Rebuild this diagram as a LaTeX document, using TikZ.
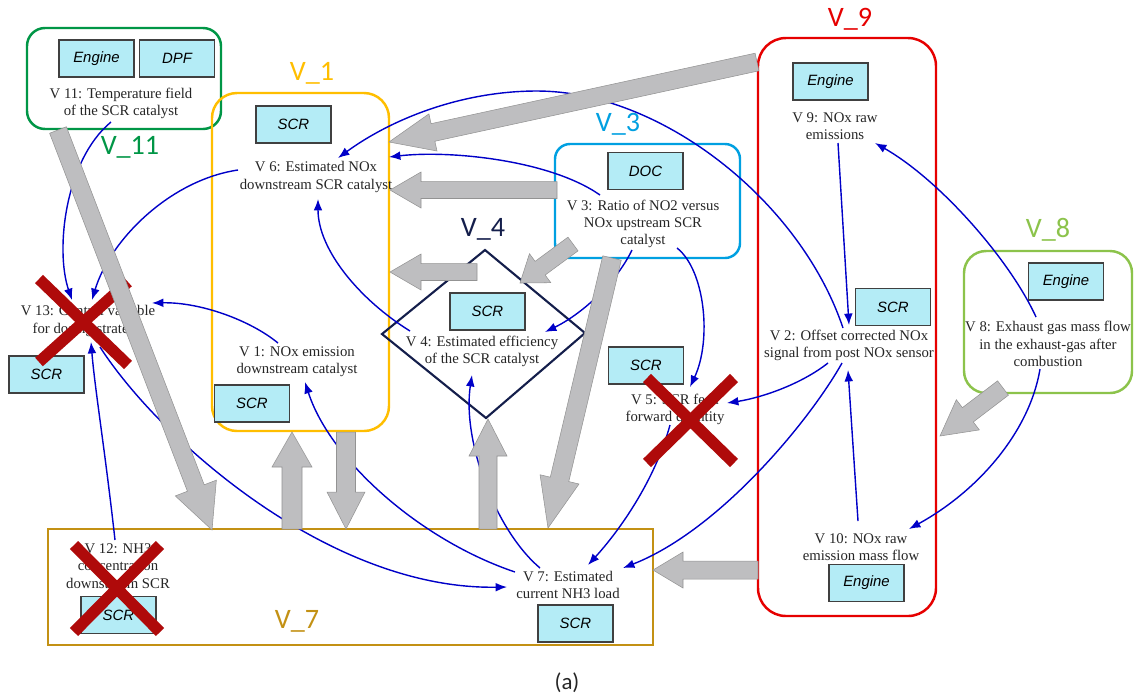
\documentclass[tikz,border=0pt]{standalone}
\usepackage{fontspec}
\setmainfont{Liberation Serif}
\newfontfamily\labfont{Carlito}
\newfontfamily\boxfont{Liberation Sans}
\usetikzlibrary{arrows.meta,calc}

\definecolor{cgreen}{RGB}{0,150,70}
\definecolor{corange}{RGB}{255,190,0}
\definecolor{ccyan}{RGB}{0,160,225}
\definecolor{cnavy}{RGB}{20,30,75}
\definecolor{cred}{RGB}{230,0,0}
\definecolor{clime}{RGB}{140,195,75}
\definecolor{cgold}{RGB}{195,145,20}
\definecolor{cblue}{RGB}{0,0,200}
\definecolor{cboxfill}{RGB}{180,236,246}
\definecolor{cxred}{RGB}{175,10,10}
\definecolor{cgrey}{RGB}{190,190,192}

\tikzset{
 txt/.style={font=\fontsize{8.4}{9.8}\selectfont, align=center, inner sep=1pt, text=black!85},
 comp/.style={draw=black!75, fill=cboxfill, line width=0.8pt, minimum width=1.5cm, minimum height=0.74cm, inner sep=0pt, font=\boxfont\itshape\fontsize{8.5}{10}\selectfont},
 grp/.style={line width=1.4pt},
 lab/.style={font=\labfont\fontsize{16}{18}\selectfont, inner sep=0pt},
 conn/.style={cblue, line width=0.8pt, -{Latex[length=6.5pt,width=5pt]}},
 plain/.style={cblue, line width=0.8pt},
 xmark/.style={cxred, line width=6.5pt},
 garr/.style={fill=cgrey, draw=gray!85, line width=0.3pt},
}

\newcommand{\grarrow}[5]{%
 \coordinate (gah) at ($(#2)!#5!(#1)$);
 \filldraw[garr] ($(#1)!#3!90:(#2)$) -- ($(gah)!#3!90:(#2)$) -- ($(gah)!#4!90:(#2)$) -- (#2) -- ($(gah)!#4!-90:(#2)$) -- ($(gah)!#3!-90:(#2)$) -- ($(#1)!#3!-90:(#2)$) -- cycle;}

\begin{document}
\begin{tikzpicture}[x=0.02cm,y=-0.02cm]
\useasboundingbox (0,0) rectangle (1135,698);
\fill[white] (0,0) rectangle (1135,698);

% group boxes
\draw[grp, cgreen, rounded corners=0.36cm] (27,28) rectangle (221,129);
\draw[grp, corange, rounded corners=0.5cm] (212,93) rectangle (389,431);
\draw[grp, ccyan, rounded corners=0.3cm] (555,144) rectangle (740,258);
\draw[grp, cred, rounded corners=0.56cm] (758,38) rectangle (936,616);
\draw[grp, clime, rounded corners=0.44cm] (964,251) rectangle (1132,393);
\draw[grp, cgold] (48,529) rectangle (653,645);
\coordinate (dT) at (485,250);
\coordinate (dR) at (585,333);
\coordinate (dB) at (486,418);
\coordinate (dL) at (382,334);
\draw[cnavy, line width=1.2pt] (dT) -- (dR) -- (dB) -- (dL) -- cycle;

% group labels
\node[lab, text=cgreen] (l11) at (130,147) {V\_11};
\node[lab, text=corange] (l1) at (312,73) {V\_1};
\node[lab, text=ccyan] (l3) at (618,124) {V\_3};
\node[lab, text=cnavy] (l4) at (483,229) {V\_4};
\node[lab, text=cred] (l9) at (850,19) {V\_9};
\node[lab, text=clime] (l8) at (1048,230) {V\_8};
\node[lab, text=cgold] (l7) at (297,621) {V\_7};
\node[font=\labfont\fontsize{13}{15}\selectfont, text=black!85] (cap) at (567,683) {(a)};

% component boxes
\node[comp] (b11a) at (96.5,58.5) {Engine};
\node[comp] (b11b) at (177,58.5) {DPF};
\node[comp] (b6) at (293.5,124.5) {SCR};
\node[comp] (b1) at (252,403.5) {SCR};
\node[comp] (b4) at (487.5,311.5) {SCR};
\node[comp] (b3) at (645.5,171) {DOC};
\node[comp] (b9) at (830.5,81.5) {Engine};
\node[comp] (b2) at (893,307) {SCR};
\node[comp] (b8) at (1066,281.5) {Engine};
\node[comp] (b10) at (866.5,583) {Engine};
\node[comp] (b5) at (646,365.5) {SCR};
\node[comp] (b13) at (46.5,374.5) {SCR};
\node[comp] (b12) at (118.5,615) {SCR};
\node[comp] (b7) at (575.5,623.5) {SCR};

% variable texts
\node[txt] (v11) at (121,103.5) {V 11: Temperature field\\of the SCR catalyst};
\node[txt] (v6) at (316,177) {V 6: Estimated NOx\\downstream SCR catalyst};
\node[txt] (v1) at (297,362) {V 1: NOx emission\\downstream catalyst};
\node[txt] (v4) at (482,351) {V 4: Estimated efficiency\\of the SCR catalyst};
\node[txt] (v3) at (643,224) {V 3: Ratio of NO2 versus\\NOx upstream SCR\\catalyst};
\node[txt] (v9) at (835,126) {V 9: NOx raw\\emissions};
\node[txt] (v2) at (849,345) {V 2: Offset corrected NOx\\signal from post NOx sensor};
\node[txt] (v8) at (1048,344) {V 8: Exhaust gas mass flow\\in the exhaust-gas after\\combustion};
\node[txt] (v10) at (861,547) {V 10: NOx raw\\emission mass flow};
\node[txt] (v5) at (675,409) {V 5: SCR feed\\forward quantity};
\node[txt] (v13) at (88,321) {V 13: Control variable\\for dosing strategy};
\node[txt] (v12) at (118,566) {V 12: NH3\\concentration\\downstream SCR};
\node[txt] (v7) at (568,585) {V 7: Estimated\\current NH3 load};

% connector ports
\coordinate (v11s) at (111,122);
\coordinate (v13n1) at (72,300);
\coordinate (v13n2) at (92,300);
\coordinate (v13e) at (152,303);
\coordinate (v13s1) at (91,342);
\coordinate (v13s2) at (100,347);
\coordinate (v6w) at (238,170);
\coordinate (v6n) at (338,158);
\coordinate (v6e) at (389,157);
\coordinate (v6s) at (318,199);
\coordinate (v1n) at (278,343);
\coordinate (v1s) at (305,382);
\coordinate (v12n) at (115,540);
\coordinate (v7w1) at (507,587);
\coordinate (v7w2) at (515,572);
\coordinate (v7n1) at (540,568);
\coordinate (v7n2) at (588,565);
\coordinate (v7e) at (623,568);
\coordinate (v4w) at (410,331);
\coordinate (v4s) at (472,375);
\coordinate (v4e) at (545,332);
\coordinate (v3w) at (600,195);
\coordinate (v3s1) at (632,250);
\coordinate (v3s2) at (677,248);
\coordinate (v2n1) at (843,328);
\coordinate (v2n2) at (849,325);
\coordinate (v2s0) at (828,363);
\coordinate (v2s1) at (842,363);
\coordinate (v2s2) at (848,370);
\coordinate (v9s) at (838,143);
\coordinate (v9e) at (875,143);
\coordinate (v8n) at (1036,317);
\coordinate (v8s) at (1040,369);
\coordinate (v10n) at (858,521);
\coordinate (v10e) at (909,529);
\coordinate (v5n) at (690,387);
\coordinate (v5e) at (727,403);
\coordinate (v5s) at (670,425);

% blue connectors
\draw[conn] (v11s) .. controls (65,160) and (55,250) .. (v13n1);
\draw[conn] (v6w) .. controls (170,180) and (110,240) .. (v13n2);
\draw[conn] (v1n) .. controls (250,320) and (200,302) .. (v13e);
\draw[conn] (v12n) .. controls (105,450) and (95,390) .. (v13s1);
\draw[conn] (v13s2) .. controls (160,440) and (330,590) .. (v7w1);
\draw[conn] (v7w2) .. controls (420,540) and (330,460) .. (v1s);
\draw[conn] (v7n1) .. controls (495,530) and (462,440) .. (v4s);
\draw[conn] (v4w) .. controls (360,300) and (318,250) .. (v6s);
\draw[conn] (v3w) .. controls (550,160) and (450,150) .. (v6e);
\draw[conn] (v2n1) .. controls (800,200) and (660,91) .. (537,91) .. controls (460,91) and (390,120) .. (v6n);
\draw[conn] (v9s) -- (v2n2);
\draw[conn] (v8n) .. controls (1010,260) and (940,180) .. (v9e);
\draw[conn] (v8s) .. controls (1030,430) and (980,490) .. (v10e);
\draw[conn] (v10n) -- (v2s2);
\draw[conn] (v2s0) .. controls (800,385) and (760,398) .. (v5e);
\draw[conn] (v2s1) .. controls (810,420) and (720,530) .. (v7e);
\draw[conn] (v3s1) .. controls (615,285) and (580,315) .. (v4e);
\draw[conn] (v3s2) .. controls (705,270) and (712,340) .. (v5n);
\draw[conn] (v5s) .. controls (655,480) and (620,530) .. (v7n2);

% red crosses
\draw[xmark] (39,279) -- (128,365);
\draw[xmark] (39,362) -- (128,282);
\draw[xmark] (647,378) -- (734,463);
\draw[xmark] (647,463) -- (734,378);
\draw[xmark] (74,545) -- (160,632);
\draw[xmark] (74,632) -- (160,545);

% grey arrows
\coordinate (g1a) at (58,130);   \coordinate (g1b) at (212,530);
\coordinate (g2a) at (757,62);   \coordinate (g2b) at (389,142);
\coordinate (g3a) at (557,190);  \coordinate (g3b) at (390,190);
\coordinate (g4a) at (477,272);  \coordinate (g4b) at (390,272);
\coordinate (g5a) at (573,244);  \coordinate (g5b) at (520,283);
\coordinate (g6a) at (612,258);  \coordinate (g6b) at (548,528);
\coordinate (g7a) at (292,529);  \coordinate (g7b) at (292,432);
\coordinate (g8a) at (346,432);  \coordinate (g8b) at (346,529);
\coordinate (g9a) at (488,529);  \coordinate (g9b) at (488,419);
\coordinate (g10a) at (1003,388); \coordinate (g10b) at (940,436);
\coordinate (g11a) at (758,570); \coordinate (g11b) at (653,570);
\grarrow{g1a}{g1b}{0.18cm}{0.44cm}{0.9cm}
\grarrow{g2a}{g2b}{0.18cm}{0.38cm}{0.9cm}
\grarrow{g3a}{g3b}{0.17cm}{0.36cm}{0.62cm}
\grarrow{g4a}{g4b}{0.17cm}{0.36cm}{0.62cm}
\grarrow{g5a}{g5b}{0.17cm}{0.36cm}{0.5cm}
\grarrow{g6a}{g6b}{0.19cm}{0.4cm}{1.0cm}
\grarrow{g7a}{g7b}{0.2cm}{0.4cm}{0.7cm}
\grarrow{g8a}{g8b}{0.19cm}{0.38cm}{0.74cm}
\grarrow{g9a}{g9b}{0.18cm}{0.38cm}{0.74cm}
\grarrow{g10a}{g10b}{0.18cm}{0.38cm}{0.7cm}
\grarrow{g11a}{g11b}{0.18cm}{0.36cm}{0.6cm}
\end{tikzpicture}
\end{document}
